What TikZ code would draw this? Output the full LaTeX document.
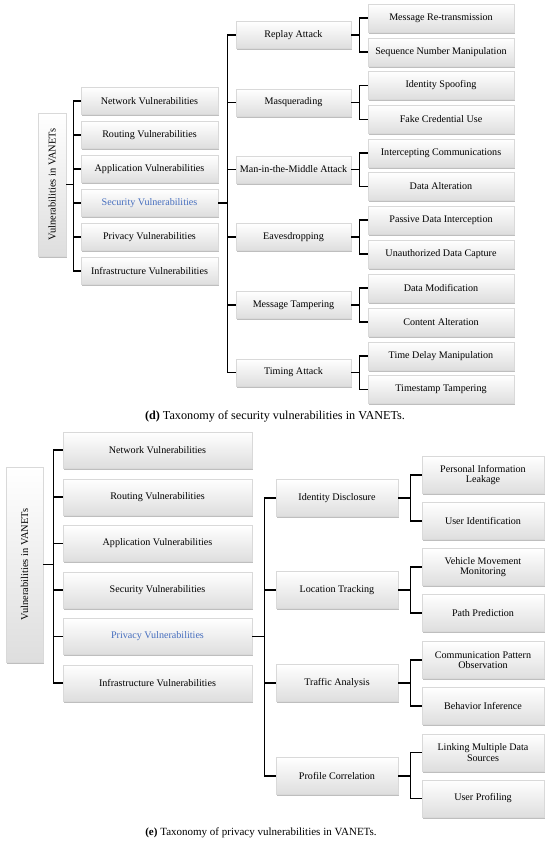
\documentclass[tikz,border=0pt]{standalone}
\usepackage{fontspec}
\setmainfont{Liberation Serif}
\usetikzlibrary{shadows,calc}
\definecolor{secblue}{RGB}{70,110,190}
\tikzset{
  vbox/.style={draw=gray!30, line width=0.4pt, top color=white, bottom color=gray!26,
    drop shadow={shadow xshift=1.2pt, shadow yshift=-1.8pt, fill=gray!85, opacity=0.6},
    inner sep=1pt, align=center, font=\fontsize{10.1}{10.6}\selectfont},
  conn/.style={line width=1.3pt, black, line cap=rect},
  lab/.style={font=\fontsize{10.4}{11}\selectfont, inner sep=0pt},
}
\begin{document}
\begin{tikzpicture}[x=1pt,y=-1pt]
\useasboundingbox (0,0) rectangle (550,845);
\fill[white] (0,0) rectangle (550,845);

% ---------- (d) top diagram ----------
\node[vbox, minimum width=28pt, minimum height=143pt] (r1) at (52,184.5) {};
\node[lab, rotate=90] (r1t) at (r1.center) {Vulnerabilities in VANETs};

\tikzset{l1d/.style={vbox, minimum width=137pt, minimum height=27pt}}
\node[l1d] (a1) at (149.5,101) {Network Vulnerabilities};
\node[l1d] (a2) at (149.5,135) {Routing Vulnerabilities};
\node[l1d] (a3) at (149.5,169) {Application Vulnerabilities};
\node[l1d, text=secblue] (a4) at (149.5,203) {Security Vulnerabilities};
\node[l1d] (a5) at (149.5,237) {Privacy Vulnerabilities};
\node[l1d] (a6) at (149.5,271) {Infrastructure Vulnerabilities};

\tikzset{l2d/.style={vbox, minimum width=115pt, minimum height=27pt}}
\node[l2d] (s1) at (293.5,35) {Replay Attack};
\node[l2d] (s2) at (293.5,102.5) {Masquerading};
\node[l2d] (s3) at (293.5,169.5) {Man-in-the-Middle Attack};
\node[l2d] (s4) at (293.5,237) {Eavesdropping};
\node[l2d] (s5) at (293.5,305) {Message Tampering};
\node[l2d] (s6) at (293.5,372.5) {Timing Attack};

\tikzset{l3d/.style={vbox, minimum width=146pt, minimum height=28pt}}
\node[l3d] (t1) at (441,18) {Message Re-transmission};
\node[l3d] (t2) at (441,52) {Sequence Number Manipulation};
\node[l3d] (t3) at (441,85.5) {Identity Spoofing};
\node[l3d] (t4) at (441,119.5) {Fake Credential Use};
\node[l3d] (t5) at (441,153) {Intercepting Communications};
\node[l3d] (t6) at (441,186.5) {Data Alteration};
\node[l3d] (t7) at (441,220) {Passive Data Interception};
\node[l3d] (t8) at (441,254) {Unauthorized Data Capture};
\node[l3d] (t9) at (441,288) {Data Modification};
\node[l3d] (t10) at (441,322) {Content Alteration};
\node[l3d] (t11) at (441,356) {Time Delay Manipulation};
\node[l3d] (t12) at (441,389.5) {Timestamp Tampering};

% connectors (d)
\draw[conn] (r1.east) -- ++(7,0) coordinate (b1);
\draw[conn] (a1.west) -- (b1 |- a1.west) -- (b1 |- a6.west) -- (a6.west);
\foreach \i in {2,...,5} \draw[conn] (b1 |- a\i.west) -- (a\i.west);

\draw[conn] (a4.east) -- ++(9,0) coordinate (b2);
\draw[conn] (s1.west) -- (b2 |- s1.west) -- (b2 |- s6.west) -- (s6.west);
\foreach \i in {2,...,5} \draw[conn] (b2 |- s\i.west) -- (s\i.west);

\foreach \p/\c/\d in {1/1/2, 2/3/4, 3/5/6, 4/7/8, 5/9/10, 6/11/12} {
  \draw[conn] (s\p.east) -- ++(8,0) coordinate (bb);
  \draw[conn] (t\c.west) -- (bb |- t\c.west) -- (bb |- t\d.west) -- (t\d.west);
}

\node[font=\fontsize{12.2}{13}\selectfont] (cap1) at (275,417) {\textbf{(d)} Taxonomy of security vulnerabilities in VANETs.};

% ---------- (e) bottom diagram ----------
\node[vbox, minimum width=37pt, minimum height=195pt] (r2) at (24.5,564.5) {};
\node[lab, rotate=90] (r2t) at (r2.center) {Vulnerabilities in VANETs};

\tikzset{l1e/.style={vbox, minimum width=189pt, minimum height=36pt}}
\node[l1e] (p1) at (157.5,450) {Network Vulnerabilities};
\node[l1e] (p2) at (157.5,497) {Routing Vulnerabilities};
\node[l1e] (p3) at (157.5,543.5) {Application Vulnerabilities};
\node[l1e] (p4) at (157.5,590) {Security Vulnerabilities};
\node[l1e, text=secblue] (p5) at (157.5,636.5) {Privacy Vulnerabilities};
\node[l1e] (p6) at (157.5,683) {Infrastructure Vulnerabilities};

\tikzset{l2e/.style={vbox, minimum width=122pt, minimum height=37pt}}
\node[l2e] (q1) at (337,498) {Identity Disclosure};
\node[l2e] (q2) at (337,590) {Location Tracking};
\node[l2e] (q3) at (337,683) {Traffic Analysis};
\node[l2e] (q4) at (337,776) {Profile Correlation};

\tikzset{l3e/.style={vbox, minimum width=122pt, minimum height=37pt}}
\node[l3e] (u1) at (483,475) {Personal Information\\Leakage};
\node[l3e] (u2) at (483,521) {User Identification};
\node[l3e] (u3) at (483,567) {Vehicle Movement\\Monitoring};
\node[l3e] (u4) at (483,613) {Path Prediction};
\node[l3e] (u5) at (483,660) {Communication Pattern\\Observation};
\node[l3e] (u6) at (483,706) {Behavior Inference};
\node[l3e] (u7) at (483,752.5) {Linking Multiple Data\\Sources};
\node[l3e] (u8) at (483,798.5) {User Profiling};

% connectors (e)
\draw[conn] (r2.east) -- ++(10,0) coordinate (e1);
\draw[conn] (p1.west) -- (e1 |- p1.west) -- (e1 |- p6.west) -- (p6.west);
\foreach \i in {2,...,5} \draw[conn] (e1 |- p\i.west) -- (p\i.west);

\draw[conn] (p5.east) -- ++(12,0) coordinate (e2);
\draw[conn] (q1.west) -- (e2 |- q1.west) -- (e2 |- q4.west) -- (q4.west);
\foreach \i in {2,3} \draw[conn] (e2 |- q\i.west) -- (q\i.west);

\foreach \p/\c/\d in {1/1/2, 2/3/4, 3/5/6, 4/7/8} {
  \draw[conn] (q\p.east) -- ++(12,0) coordinate (ee);
  \draw[conn] (u\c.west) -- (ee |- u\c.west) -- (ee |- u\d.west) -- (u\d.west);
}

\node[font=\fontsize{11}{12}\selectfont] (cap2) at (261,833) {\textbf{(e)} Taxonomy of privacy vulnerabilities in VANETs.};
\end{tikzpicture}
\end{document}
